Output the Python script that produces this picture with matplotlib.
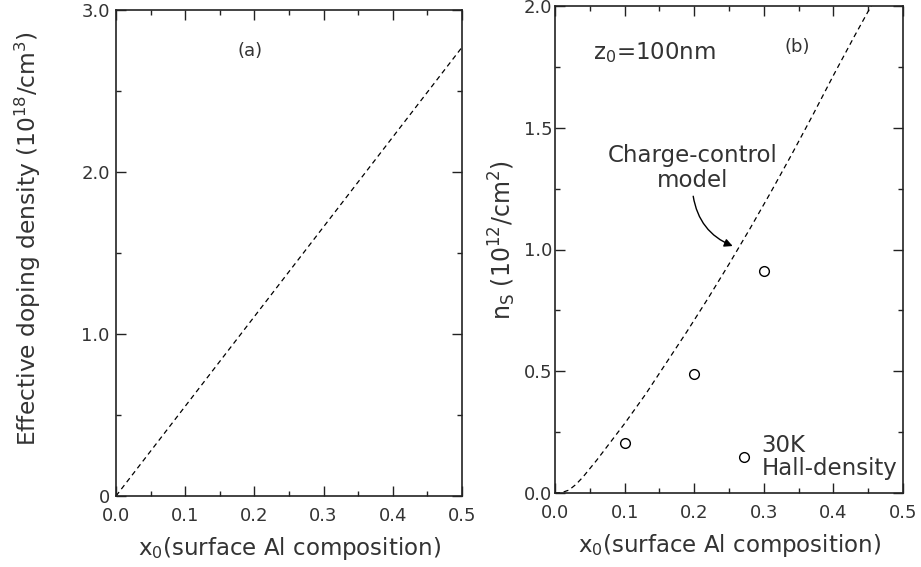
import matplotlib
matplotlib.use("Agg")
import matplotlib.pyplot as plt
from matplotlib.ticker import MultipleLocator, FixedLocator, FixedFormatter

plt.rcParams['font.family'] = 'DejaVu Sans'
plt.rcParams['mathtext.fontset'] = 'dejavusans'

# panel (a): effective doping density vs x0 (linear)
x_a = [0.0, 0.5]
doping = [0.0, 2.77]

# panel (b): charge-control model curve and 30K Hall-density points
x_model = [0.0, 0.01, 0.02, 0.03, 0.04, 0.06, 0.08, 0.10, 0.13, 0.16, 0.19,
           0.22, 0.25, 0.28, 0.31, 0.34, 0.37, 0.40, 0.43, 0.46, 0.47]
ns_model = [0.0, 0.002, 0.012, 0.035, 0.065, 0.135, 0.21, 0.285, 0.405, 0.535, 0.665,
            0.80, 0.94, 1.085, 1.235, 1.39, 1.55, 1.715, 1.875, 2.03, 2.08]
x_hall = [0.1, 0.2, 0.3, 0.271]
ns_hall = [0.205, 0.49, 0.91, 0.147]

txt = '#333333'
fs = 16.5

fig = plt.figure(figsize=(9.21, 5.67), dpi=100)
W, H = 921, 567
ax1 = fig.add_axes([116 / W, 1 - 496 / H, 346 / W, 486 / H])
ax2 = fig.add_axes([555 / W, 1 - 493 / H, 348 / W, 487 / H])

for ax in (ax1, ax2):
    ax.tick_params(which='both', direction='in', top=True, right=True,
                   width=1.0, colors='#222222', labelcolor=txt, labelsize=13)
    ax.tick_params(which='major', length=7)
    ax.tick_params(which='minor', length=3.8)
    ax.tick_params(axis='x', pad=8)
    for s in ax.spines.values():
        s.set_linewidth(1.2)
        s.set_color('#222222')
    ax.set_xlim(0, 0.5)
    ax.xaxis.set_major_locator(FixedLocator([0.0, 0.1, 0.2, 0.3, 0.4, 0.5]))
    ax.xaxis.set_major_formatter(FixedFormatter(['0.0', '0.1', '0.2', '0.3', '0.4', '0.5']))
    ax.xaxis.set_minor_locator(MultipleLocator(0.05))
    ax.set_xlabel(r'x$_0$(surface Al composition)', fontsize=fs, color=txt, va='center')
    ax.xaxis.set_label_coords(0.5, -0.107)

# panel (a)
ax1.plot(x_a, doping, color='black', linestyle=(0, (4, 3)), linewidth=0.9)
ax1.set_ylim(0, 3.0)
ax1.yaxis.set_major_locator(FixedLocator([0, 1.0, 2.0, 3.0]))
ax1.yaxis.set_major_formatter(FixedFormatter(['0', '1.0', '2.0', '3.0']))
ax1.yaxis.set_minor_locator(MultipleLocator(0.5))
ax1.tick_params(axis='y', pad=4.5)
ax1.set_ylabel(r'Effective doping density (10$^{18}$/cm$^3$)', fontsize=fs + 0.3,
               color=txt, va='center')
ax1.yaxis.set_label_coords(-0.254, 0.53)
ax1.text(0.194, 2.75, '(a)', fontsize=13, color=txt, ha='center', va='center')

# panel (b)
ax2.plot(x_model, ns_model, color='black', linestyle=(0, (4, 3)), linewidth=0.9)
ax2.plot(x_hall, ns_hall, linestyle='none', marker='o', markersize=7,
         markerfacecolor='white', markeredgecolor='black', markeredgewidth=1.0)
ax2.set_ylim(0, 2.0)
ax2.yaxis.set_major_locator(FixedLocator([0.0, 0.5, 1.0, 1.5, 2.0]))
ax2.yaxis.set_major_formatter(FixedFormatter(['0.0', '0.5', '1.0', '1.5', '2.0']))
ax2.yaxis.set_minor_locator(MultipleLocator(0.25))
ax2.tick_params(axis='y', pad=2)
ax2.set_ylabel(r'n$_\mathrm{S}$ (10$^{12}$/cm$^2$)', fontsize=fs + 0.5, color=txt, va='center')
ax2.yaxis.set_label_coords(-0.152, 0.52)
ax2.text(0.055, 1.81, r'z$_0$=100nm', fontsize=fs, color=txt, ha='left', va='center')
ax2.text(0.348, 1.83, '(b)', fontsize=13, color=txt, ha='center', va='center')
ax2.text(0.198, 1.335, 'Charge-control\nmodel', fontsize=fs, color=txt,
         ha='center', va='center', linespacing=1.15)
ax2.annotate('', xy=(0.259, 1.01), xytext=(0.198, 1.23),
             arrowprops=dict(arrowstyle='-|>', color='black', lw=1.0,
                             connectionstyle='arc3,rad=0.3', mutation_scale=12))
ax2.text(0.297, 0.148, '30K\nHall-density', fontsize=fs, color=txt,
         ha='left', va='center', linespacing=1.05)

fig.savefig('out.png', dpi=100)
